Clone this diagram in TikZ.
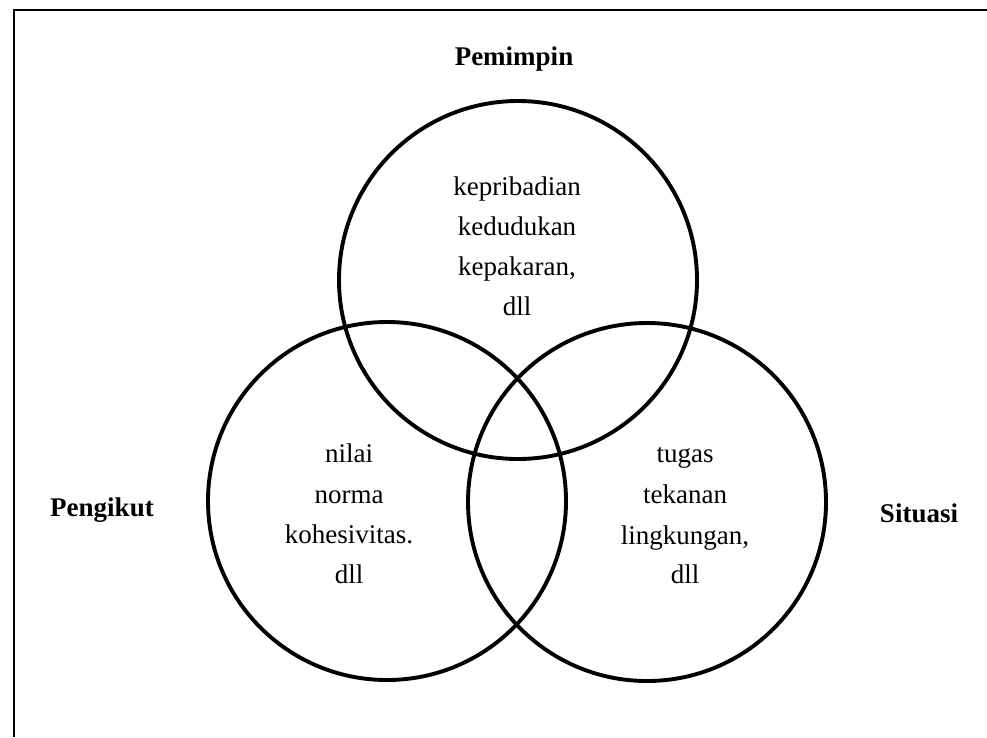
\documentclass[tikz,border=0pt]{standalone}
\usepackage{fontspec}
\setmainfont{Liberation Serif}
\begin{document}
\begin{tikzpicture}[x=1pt,y=-1pt,
  ring/.style={circle, draw=black, line width=3.9pt, minimum size=358pt, inner sep=0pt},
  body/.style={font=\fontsize{27}{32}\selectfont, anchor=base, inner sep=0pt},
  lbl/.style={font=\fontsize{27}{32}\selectfont\bfseries, anchor=base, inner sep=0pt},
  frame/.style={draw=black, line width=2.4pt, line join=miter}]
\useasboundingbox (0,0) rectangle (987,737);
% open frame (left and top sides)
\coordinate (fb) at (14,737);
\coordinate (ftl) at (14,10);
\coordinate (ftr) at (987,10);
\draw[frame] (fb) -- (ftl) -- (ftr);
% circles
\node[ring] (ctop) at (518,280) {};
\node[ring] (cleft) at (387,501) {};
\node[ring] (cright) at (647,502) {};
% labels
\node[lbl] (pem) at (514,65) {Pemimpin};
\node[lbl] (peng) at (102,516) {Pengikut};
\node[lbl] (sit) at (919,522) {Situasi};
% top circle text
\node[body] (t1) at (517,195) {kepribadian};
\node[body] (t2) at (517,235) {kedudukan};
\node[body] (t3) at (517,275) {kepakaran,};
\node[body] (t4) at (517,315) {dll};
% left circle text
\node[body] (l1) at (349,462) {nilai};
\node[body] (l2) at (349,503) {norma};
\node[body] (l3) at (349,543) {kohesivitas.};
\node[body] (l4) at (349,583) {dll};
% right circle text
\node[body] (r1) at (685,462) {tugas};
\node[body] (r2) at (685,503) {tekanan};
\node[body] (r3) at (685,544) {lingkungan,};
\node[body] (r4) at (685,583) {dll};
\end{tikzpicture}
\end{document}
